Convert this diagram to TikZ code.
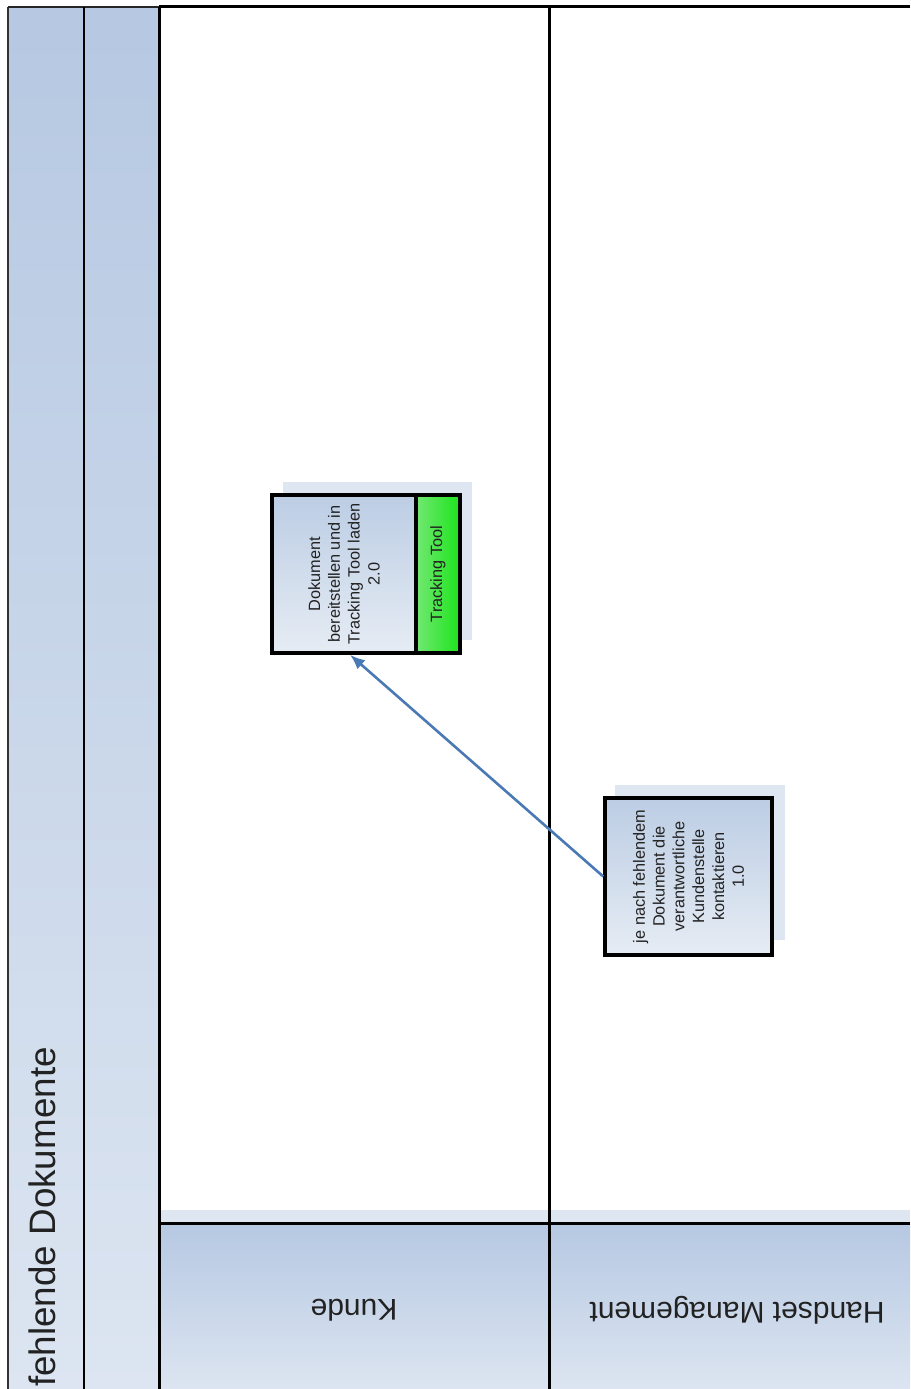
\documentclass[tikz,border=0pt]{standalone}
\usepackage{fontspec}
\setmainfont{Liberation Sans}
\usetikzlibrary{arrows.meta}
\definecolor{lanecol}{HTML}{B6C8E2}
\definecolor{lanelight}{HTML}{DCE5F1}
\definecolor{shadowcol}{HTML}{DDE6F1}
\definecolor{arrowcol}{HTML}{4A7AB5}
\definecolor{txt}{HTML}{222222}
\definecolor{boxtop}{HTML}{BCCDE4}
\definecolor{boxbot}{HTML}{E6ECF4}
\definecolor{greenl}{HTML}{72E872}
\definecolor{greenr}{HTML}{1DE41D}
\tikzset{
  lane/.style={line width=3pt, draw=black},
  stepbox/.style={draw=black, line width=3.5pt, inner sep=0pt, top color=boxtop, bottom color=boxbot},
  toolbox/.style={draw=black, line width=3.5pt, inner sep=0pt, left color=greenl, right color=greenr},
  shadowbox/.style={fill=shadowcol, draw=none, inner sep=0pt},
  boxtext/.style={rotate=90, align=center, text=txt, inner sep=0pt, font=\fontsize{16.3}{19.8}\selectfont},
  headtext/.style={rotate=180, text=txt, inner sep=0pt, font=\fontsize{30}{34}\selectfont},
  arr/.style={draw=arrowcol, line width=2.6pt, -{Latex[length=15pt,width=12pt]}}
}
\begin{document}
\begin{tikzpicture}[x=1pt,y=-1pt]
\useasboundingbox (0,0) rectangle (910,1389);
\clip (0,0) rectangle (910,1389);
\fill[white] (0,0) rectangle (910,1389);
% left columns
\shade[top color=lanecol, bottom color=lanelight] (8,7) rectangle (84,1389);
\shade[top color=lanecol, bottom color=lanelight] (84,7) rectangle (159,1389);
% header shadow band and headers
\fill[shadowcol] (159,1210) rectangle (910,1223);
\shade[top color=lanecol, bottom color=lanelight] (159,1223) rectangle (549,1389);
\shade[top color=lanecol, bottom color=lanelight] (549,1223) rectangle (910,1389);
% frame lines
\draw[line width=1.5pt, draw=black!80] (8,7) -- (8,1389);
\draw[line width=2pt, draw=black!85] (8,7) -- (159,7);
\draw[lane] (159,7) -- (910,7);
\draw[line width=2.5pt] (84,7) -- (84,1389);
\draw[lane] (159,7) -- (159,1389);
\draw[lane] (549,7) -- (549,1389);
\draw[lane] (159,1223) -- (910,1223);
% title
\node[rotate=90, anchor=base west, inner sep=0pt, text=txt, font=\fontsize{36.8}{40}\selectfont] (title) at (55,1387) {fehlende Dokumente};
% lane headers
\node[headtext] (kunde) at (354,1310) {Kunde};
\node[headtext] (handset) at (737,1310) {Handset Management};
% shadows
\node[shadowbox, minimum width=189pt, minimum height=158pt] (s1) at (377.5,561) {};
\node[shadowbox, minimum width=170pt, minimum height=155pt] (s2) at (700,862.5) {};
% box 1
\node[stepbox, minimum width=144pt, minimum height=158pt] (b1) at (344,574) {};
\node[toolbox, minimum width=44pt, minimum height=158pt] (g1) at (438,574) {};
\node[boxtext] (b1t) at (b1.center) {Dokument\\bereitstellen und in\\Tracking Tool laden\\2.0};
\node[boxtext] (g1t) at (g1.center) {Tracking Tool};
% box 2
\node[stepbox, minimum width=167pt, minimum height=157pt] (b2) at (688.5,876.5) {};
\node[boxtext] (b2t) at (b2.center) {je nach fehlendem\\Dokument die\\verantwortliche\\Kundenstelle\\kontaktieren\\1.0};
% connector
\draw[arr] (b2.west) -- ([xshift=6pt]b1.south);
\end{tikzpicture}
\end{document}
